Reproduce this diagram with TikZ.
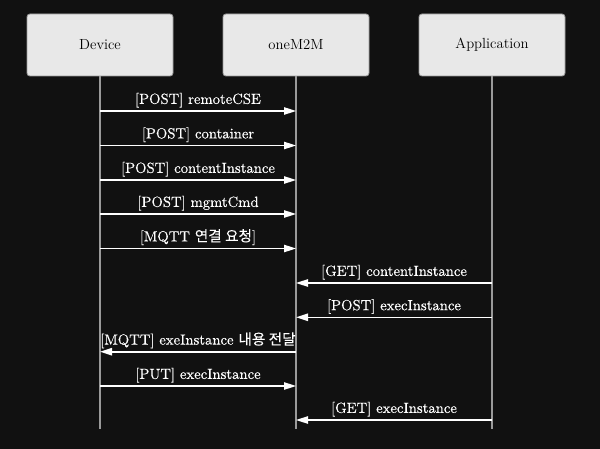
\documentclass[tikz,border=0pt]{standalone}
\usepackage{fontspec}
\newfontfamily\lbl{Latin Modern Roman}[FakeBold=0.35]
\newfontfamily\krb{Noto Sans CJK KR}[FakeBold=0.15]
\usetikzlibrary{arrows.meta}
\definecolor{bg}{HTML}{111111}
\definecolor{boxfill}{HTML}{E8E8E8}
\definecolor{boxline}{HTML}{9A9A9A}
\definecolor{life}{HTML}{9A9A9A}
\definecolor{msg}{HTML}{FFFFFF}
\tikzset{
  actor/.style={draw=boxline, fill=boxfill, rounded corners=2.2pt, line width=0.6pt,
    minimum width=146*0.75pt, minimum height=62*0.75pt, font=\fontsize{11}{13}\selectfont, text=black},
  lifeline/.style={draw=life, line width=1.1pt},
  message/.style={draw=msg, line width=1.2pt, -{Triangle[length=9pt,width=5.5pt]}},
  msglabel/.style={above, inner sep=2pt, text=msg, font=\lbl\fontsize{11}{13}\selectfont}
}
\begin{document}
\begin{tikzpicture}[x=0.75pt,y=-0.75pt]
\fill[bg] (0,0) rectangle (600,449);
\useasboundingbox (0,0) rectangle (600,449);
\node[actor] (dev) at (100,45) {Device};
\node[actor] (one) at (296,45) {oneM2M};
\node[actor] (app) at (492,45) {Application};
\coordinate (devend) at (100,429);
\coordinate (oneend) at (296,429);
\coordinate (append) at (492,429);
\draw[lifeline] (dev.south) -- (devend);
\draw[lifeline] (one.south) -- (oneend);
\draw[lifeline] (app.south) -- (append);
\foreach \i/\y in {1/111,2/145.5,3/180,4/214,5/248.5,6/283,7/317.3,8/351.7,9/386,10/420}{
  \coordinate (d\i) at (100,\y);
  \coordinate (o\i) at (296,\y);
  \coordinate (a\i) at (492,\y);
}
\draw[message] (d1) -- node[msglabel] {[POST] remoteCSE} (o1);
\draw[message] (d2) -- node[msglabel] {[POST] container} (o2);
\draw[message] (d3) -- node[msglabel] {[POST] contentInstance} (o3);
\draw[message] (d4) -- node[msglabel] {[POST] mgmtCmd} (o4);
\draw[message] (d5) -- node[msglabel] {[MQTT {\krb 연결 요청}]} (o5);
\draw[message] (a6) -- node[msglabel] {[GET] contentInstance} (o6);
\draw[message] (a7) -- node[msglabel] {[POST] execInstance} (o7);
\draw[message] (o8) -- node[msglabel] {[MQTT] exeInstance {\krb 내용 전달}} (d8);
\draw[message] (d9) -- node[msglabel] {[PUT] execInstance} (o9);
\draw[message] (a10) -- node[msglabel] {[GET] execInstance} (o10);
\end{tikzpicture}
\end{document}
